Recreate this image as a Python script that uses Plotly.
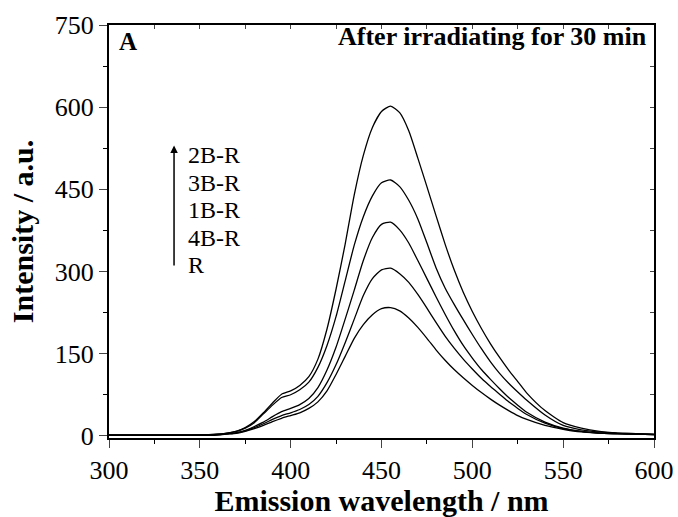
import plotly.graph_objects as go

wavelength = [300, 310, 320, 330, 340, 350, 355, 360, 365, 370, 375, 380, 385, 390, 395,
              400, 405, 410, 415, 420, 425, 430, 435, 440, 445, 450, 455, 460, 465, 470,
              475, 480, 485, 490, 495, 500, 505, 510, 515, 520, 525, 530, 540, 550, 560,
              570, 580, 590, 600]

int_2BR = [1, 1, 1, 1, 1, 1.5, 2, 3, 5, 8, 15, 26, 42, 60, 76,
           82, 92, 108, 140, 195, 268, 350, 440, 512, 563, 592, 602, 590, 557, 507,
           455, 402, 350, 303, 262, 227, 196, 168, 143, 120, 99, 78, 46, 24, 14,
           8, 5, 4, 3]
int_3BR = [1, 1, 1, 1, 1, 1.5, 2, 3, 5, 8, 14, 24, 40, 56, 70,
           75, 84, 98, 125, 165, 218, 283, 348, 400, 438, 462, 467, 455, 430, 396,
           352, 307, 270, 240, 212, 185, 159, 135, 114, 96, 80, 65, 38, 19, 11,
           7, 5, 3.5, 2.5]
int_1BR = [1, 1, 1, 1, 1, 1, 1.5, 2.5, 4, 6, 10, 17, 25, 35, 44,
           50, 57, 68, 88, 120, 162, 213, 266, 320, 362, 386, 390, 376, 352, 320,
           287, 254, 222, 192, 165, 142, 121, 103, 86, 70, 56, 43, 25, 14, 8,
           5, 4, 3, 2]
int_4BR = [1, 1, 1, 1, 1, 1, 1.5, 2, 3.5, 5, 9, 15, 22, 30, 37,
           42, 48, 57, 72, 97, 130, 170, 213, 256, 287, 303, 306, 296, 280, 258,
           233, 207, 182, 160, 140, 122, 105, 90, 76, 62, 50, 39, 23, 13, 8,
           5, 4, 3, 2]
int_R = [1, 1, 1, 1, 1, 1, 1, 1.5, 3, 4.5, 8, 13, 19, 26, 32,
         37, 42, 50, 62, 82, 112, 145, 178, 203, 221, 232, 234, 228, 215, 198,
         178, 157, 138, 121, 106, 92, 79, 67, 56, 46, 37, 30, 19, 12, 7,
         5, 3.5, 3, 2]

series_names = ["2B-R", "3B-R", "1B-R", "4B-R", "R"]
series_values = [int_2BR, int_3BR, int_1BR, int_4BR, int_R]

FONT = "Liberation Serif"

fig = go.Figure()
for name, vals in zip(series_names, series_values):
    fig.add_trace(go.Scatter(x=wavelength, y=vals, mode="lines", name=name,
                             line=dict(color="black", width=1.3, shape="spline", smoothing=0.6),
                             showlegend=False))

# dummy trace for mirrored top/right axes
fig.add_trace(go.Scatter(x=[None], y=[None], xaxis="x2", yaxis="y2", showlegend=False,
                         hoverinfo="skip"))

fig.update_layout(
    width=678, height=517,
    margin=dict(l=109, r=24, t=25, b=79),
    paper_bgcolor="white", plot_bgcolor="white",
    font=dict(family=FONT, color="black"),
    xaxis=dict(range=[300, 600], dtick=50, tick0=300, ticks="outside", ticklen=8, tickwidth=1.3,
               showline=True, linewidth=2, linecolor="black", showgrid=False, zeroline=False,
               automargin=False,
               tickfont=dict(size=26, family=FONT),
               minor=dict(dtick=25, ticks="outside", ticklen=4, tickwidth=1.3, tickcolor="black", showgrid=False),
               title=dict(text="<b>Emission wavelength / nm</b>", font=dict(size=30, family=FONT), standoff=8)),
    yaxis=dict(range=[-4, 750], tickvals=[0, 150, 300, 450, 600, 750], ticks="outside", ticklen=8, tickwidth=1.3,
               showline=True, linewidth=2, linecolor="black", showgrid=False, zeroline=False,
               automargin=False,
               tickfont=dict(size=26, family=FONT),
               minor=dict(tickvals=[75, 225, 375, 525, 675], ticks="outside", ticklen=4, tickwidth=1.3,
                          tickcolor="black", showgrid=False),
               title=dict(text="<b>Intensity / a.u.</b>", font=dict(size=30, family=FONT), standoff=12)),
    xaxis2=dict(range=[300, 600], overlaying="x", side="top", anchor="y2", dtick=25, tick0=300,
                ticks="inside", ticklen=4, tickwidth=1.3, showticklabels=False, automargin=False,
                showline=True, linewidth=2, linecolor="black", showgrid=False, zeroline=False),
    yaxis2=dict(range=[-4, 750], overlaying="y", side="right", anchor="x2",
                tickvals=[75, 150, 225, 300, 375, 450, 525, 600, 675], automargin=False,
                ticks="inside", ticklen=4, tickwidth=1.3, showticklabels=False,
                showline=True, linewidth=2, linecolor="black", showgrid=False, zeroline=False),
)

# panel label and condition
fig.add_annotation(x=304.4, y=720, xref="x", yref="y", text="<b>A</b>", showarrow=False,
                   xanchor="left", yanchor="middle", font=dict(size=25, family=FONT))
fig.add_annotation(x=597, y=729, xref="x", yref="y", text="<b>After irradiating for 30 min</b>",
                   showarrow=False, xanchor="right", yanchor="middle", font=dict(size=26, family=FONT))

# arrow
fig.add_annotation(x=335.8, y=530, ax=335.8, ay=308, xref="x", yref="y", axref="x", ayref="y",
                   text="", showarrow=True, arrowhead=2, arrowsize=1, arrowwidth=1.5, arrowcolor="black")

label_y = [513, 462, 412, 361, 312]
for name, ly in zip(series_names, label_y):
    fig.add_annotation(x=342.4, y=ly, xref="x", yref="y", text=name, showarrow=False,
                       xanchor="left", yanchor="middle", font=dict(size=24, family=FONT))

fig.write_html("out.html")
